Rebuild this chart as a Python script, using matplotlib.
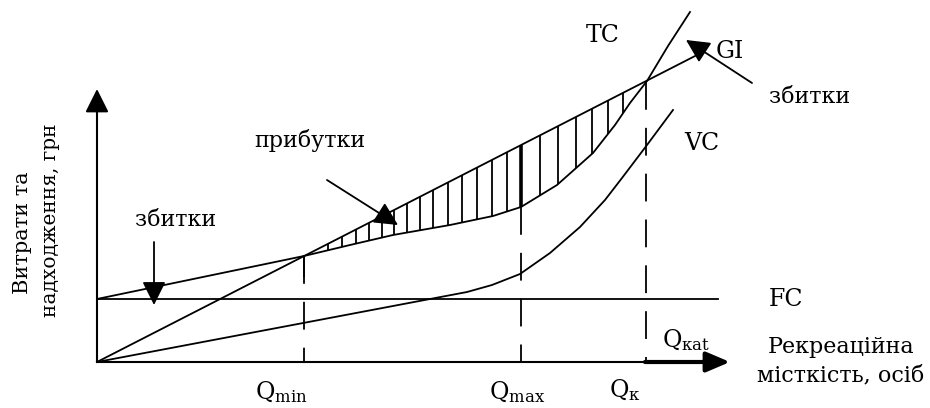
import numpy as np
import matplotlib
matplotlib.use("Agg")
import matplotlib.pyplot as plt

plt.rcParams['font.family'] = ['DejaVu Serif']
plt.rcParams['mathtext.fontset'] = 'dejavuserif'
plt.rcParams['lines.scale_dashes'] = False

# schematic values (origin of the axes at 0,0)
q_min = 207
q_max = 424
q_k = 549
fc_level = 63
fc_end = 621

gi_q = [0, 600]
gi_v = [0, 307]

tc_q = [0, 207, 253, 296, 353, 396, 424, 460, 496, 518, 533, 550, 571, 593]
tc_v = [63, 106, 117, 127, 137, 146, 155, 177, 209, 237, 259, 281, 316, 350]

vc_q = [0, 370, 395, 423, 453, 483, 508, 525, 550, 576]
vc_v = [0, 70, 77, 88, 109, 135, 162, 184, 217, 252]

hatch_q = [231, 245, 259, 272, 285, 297, 310, 323, 336, 351, 365, 380, 395, 410,
           443, 461, 479, 495, 511, 526]

fig = plt.figure(figsize=(9.3, 4.08), dpi=100)
ax = fig.add_axes([0, 0, 1, 1])
ax.set_xlim(-97, 833)
ax.set_ylim(-46, 362)
ax.axis('off')

lw = 1.3
k = 'black'

def arrow(tip, tail, **kw):
    props = dict(arrowstyle='-|>', mutation_scale=36, lw=lw, color=k,
                 shrinkA=0, shrinkB=0)
    props.update(kw)
    ax.annotate('', xy=tip, xytext=tail, arrowprops=props)

# axes with arrows
arrow((0, 273), (0, 0), lw=1.5)
ax.plot([0, q_k], [0, 0], color=k, lw=1.5)
arrow((633, 0), (q_k - 1, 0), lw=3,
      arrowstyle='-|>,head_length=0.4,head_width=0.17')

# curves
ax.plot([0, fc_end], [fc_level, fc_level], color=k, lw=lw)
ax.plot(tc_q, tc_v, color=k, lw=lw)
ax.plot(vc_q, vc_v, color=k, lw=lw)
ax.plot(gi_q, gi_v, color=k, lw=lw)

# hatching between GI and TC
gi_at = lambda q: np.interp(q, gi_q, gi_v)
tc_at = lambda q: np.interp(q, tc_q, tc_v)
hq = np.array(hatch_q)
ax.vlines(hq, tc_at(hq), gi_at(hq), color=k, lw=lw)
ax.vlines(q_max, tc_at(q_max), gi_at(q_max), color=k, lw=2.6)

# dashed verticals
for q in [q_min, q_max, q_k]:
    ax.plot([q, q], [tc_at(q), 0], color=k, lw=lw, dashes=(20, 13))
ax.plot([q_min, q_min], [tc_at(q_min), tc_at(q_min) - 20], color=k, lw=lw)

# arrows to areas
arrow((57, 57), (57, 120))
arrow((301, 137), (230, 182))
arrow((589, 322), (655, 279))

# labels
big = 17
small = 16
ax.text(506, 327, 'TC', fontsize=big, ha='center', va='center')
ax.text(633, 311, 'GI', fontsize=big, ha='center', va='center')
ax.text(605, 219, 'VC', fontsize=big, ha='center', va='center')
ax.text(689, 62, 'FC', fontsize=big, ha='center', va='center')

ax.text(79, 142, 'збитки', fontsize=small, ha='center', va='center')
ax.text(213, 222, 'прибутки', fontsize=small, ha='center', va='center')
ax.text(713, 265, 'збитки', fontsize=small, ha='center', va='center')

ax.text(184, -30, r'$\mathrm{Q}_{\mathrm{min}}$', fontsize=big, ha='center', va='center')
ax.text(420, -30, r'$\mathrm{Q}_{\mathrm{max}}$', fontsize=big, ha='center', va='center')
ax.text(528, -28, r'$\mathrm{Q}_{\mathrm{к}}$', fontsize=big, ha='center', va='center')
ax.text(589, 22, r'$\mathrm{Q}_{\mathrm{кat}}$', fontsize=big, ha='center', va='center')

ax.text(744, 15, 'Рекреаційна', fontsize=small, ha='center', va='center')
ax.text(744, -13, 'місткість, осіб', fontsize=small, ha='center', va='center')

ax.text(-74, 129, 'Витрати та', fontsize=15, ha='center', va='center', rotation=90)
ax.text(-46, 142, 'надходження, грн', fontsize=14.5, ha='center', va='center', rotation=90)

fig.savefig('out.png', dpi=100)
